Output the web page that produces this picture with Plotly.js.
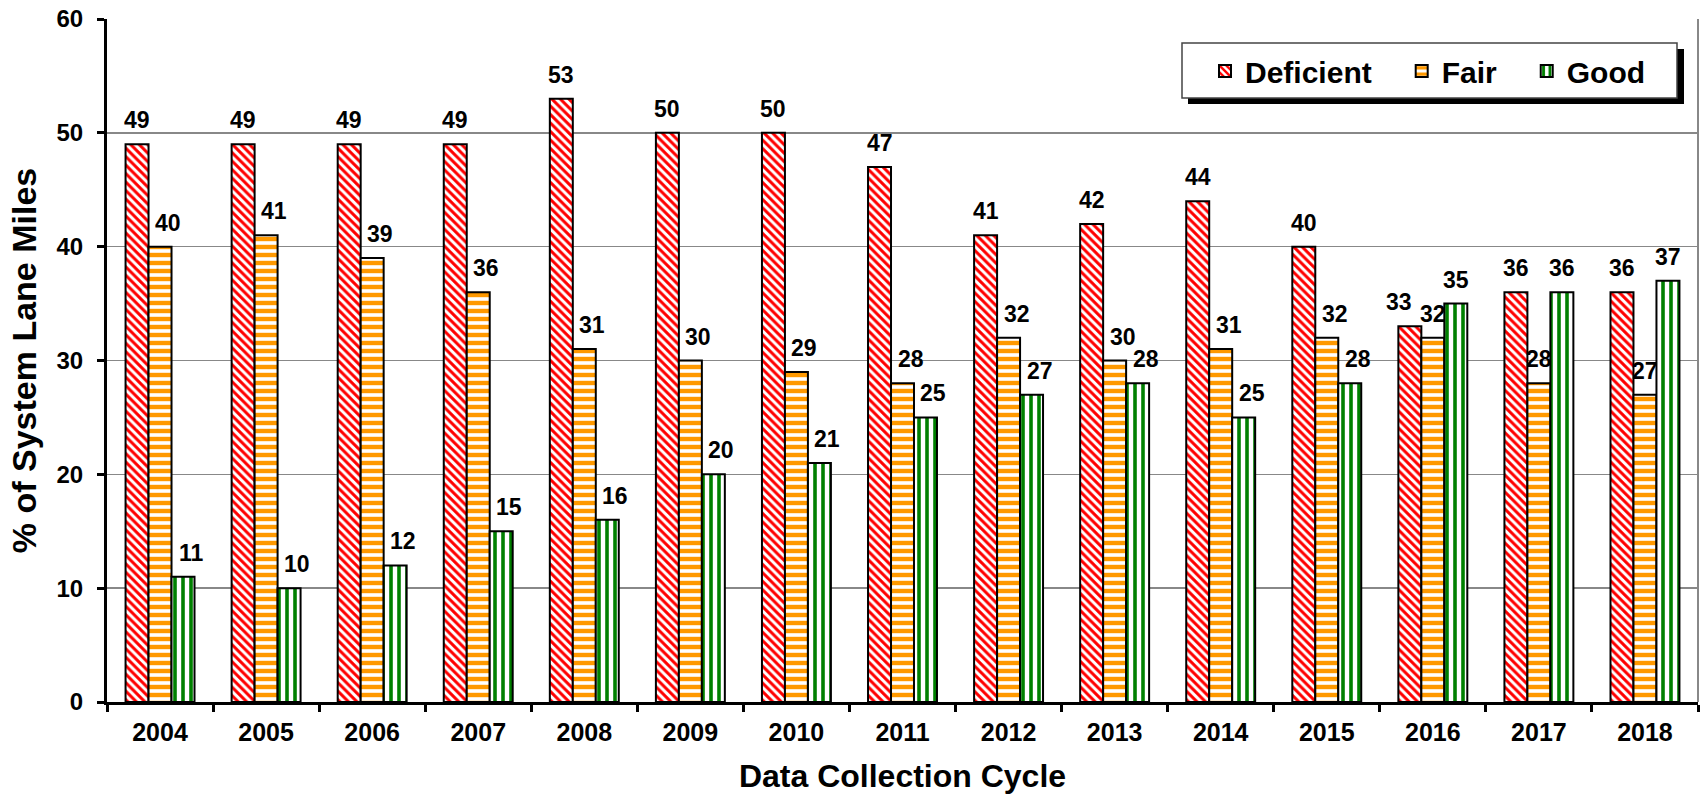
<!DOCTYPE html>
<html>
<head>
<meta charset="utf-8">
<script src="https://cdn.plot.ly/plotly-3.0.1.min.js"></script>
<style>html,body{margin:0;padding:0;background:#fff;}#chart{width:1705px;height:794px;}</style>
</head>
<body>
<div id="chart"></div>
<script>
const years = ['2004','2005','2006','2007','2008','2009','2010','2011','2012','2013','2014','2015','2016','2017','2018'];
const deficient = [49,49,49,49,53,50,50,47,41,42,44,40,33,36,36];
const fair = [40,41,39,36,31,30,29,28,32,30,31,32,32,28,27];
const good = [11,10,12,15,16,20,21,25,27,28,25,28,35,36,37];
const seriesNames = ['Deficient', 'Fair', 'Good'];
const yTicks = [0,10,20,30,40,50,60];

const FONT = 'Liberation Sans, Arial, sans-serif';
const W = 1705, H = 794;
const M = {l: 107, r: 7, t: 19, b: 92, pad: 0};
const BARGAP = 0.35;
const plotW = W - M.l - M.r, plotH = H - M.t - M.b;
const barPx = plotW / years.length * (1 - BARGAP) / 3;

const NB = '\u00a0';
function barTrace(name, vals, shape, fg, size, solidity) {
  return {
    type: 'bar', name: name, x: years, y: vals,
    marker: {
      color: '#ffffff',
      line: {color: '#000', width: 2},
      pattern: {shape: shape, fgcolor: fg, bgcolor: '#ffffff', size: size, solidity: solidity, fillmode: 'replace'}
    },
    hoverinfo: 'skip'
  };
}

const allSeries = [deficient, fair, good];
const data = [
  barTrace(seriesNames[0] + NB + NB + NB, deficient, '\\', '#ff0000', 6, 0.5),
  barTrace(seriesNames[1] + NB + NB + NB, fair, '-', '#ff9900', 8, 0.55),
  barTrace(seriesNames[2], good, '|', '#008000', 8, 0.45)
];

// label nudges (Excel-like): fair/good labels sit slightly right when Good < Fair;
// Deficient label nudged left when it would collide with a near-equal Fair label
function labelNudge(i, j) {
  if (i === 0) return Math.abs(deficient[j] - fair[j]) < 3 ? -11 : 0;
  return good[j] < fair[j] ? 8 : 0;
}

const annotations = [];
allSeries.forEach((vals, i) => {
  vals.forEach((v, j) => {
    annotations.push({
      xref: 'x', yref: 'y', x: j, y: v, text: String(v),
      showarrow: false, xanchor: 'center', yanchor: 'bottom',
      xshift: (i - 1) * barPx + labelNudge(i, j), yshift: 9,
      font: {family: FONT, size: 23, color: '#000', weight: 'bold'}
    });
  });
});

function px2x(p) { return (p - M.l) / plotW; }
function py2y(p) { return (H - M.b - p) / plotH; }

const layout = {
  width: W, height: H,
  margin: M,
  paper_bgcolor: '#fff', plot_bgcolor: '#fff',
  font: {family: FONT, color: '#000', weight: 'bold'},
  barmode: 'group', bargap: BARGAP, bargroupgap: 0,
  showlegend: true,
  legend: {
    orientation: 'h', x: px2x(1205), xanchor: 'left', y: py2y(71), yanchor: 'middle',
    bgcolor: 'rgba(0,0,0,0)', borderwidth: 0,
    font: {family: FONT, size: 30, color: '#000', weight: 'bold'},
    itemwidth: 30, traceorder: 'normal'
  },
  xaxis: {
    type: 'category', categoryarray: years, categoryorder: 'array',
    range: [-0.5, years.length - 0.5], autorange: false,
    tickson: 'boundaries',
    showline: true, linecolor: '#000', linewidth: 3,
    ticks: 'outside', tickcolor: '#000', tickwidth: 3, ticklen: 7,
    ticklabelstandoff: 6, tickangle: 0,
    tickfont: {family: FONT, size: 25, color: '#000', weight: 'bold'},
    showgrid: false, zeroline: false,
    title: {text: 'Data Collection Cycle', font: {family: FONT, size: 32, color: '#000', weight: 'bold'}, standoff: 21}
  },
  yaxis: {
    range: [0, 60], autorange: false, tickvals: yTicks, ticktext: yTicks.map(String),
    showline: true, linecolor: '#000', linewidth: 3,
    ticks: 'outside', tickcolor: '#000', tickwidth: 3, ticklen: 7,
    ticklabelstandoff: 9,
    tickfont: {family: FONT, size: 24, color: '#000', weight: 'bold'},
    showgrid: true, gridcolor: '#888', gridwidth: 1.5, zeroline: false,
    title: {text: '% of System Lane Miles', font: {family: FONT, size: 34, color: '#000', weight: 'bold'}, standoff: 10}
  },
  annotations: annotations,
  shapes: [
    {type: 'line', xref: 'paper', yref: 'paper', x0: 1, x1: 1, y0: 0, y1: 1, line: {color: '#888', width: 2}},
    {type: 'rect', xref: 'paper', yref: 'paper', x0: px2x(1188), x1: px2x(1684), y0: py2y(104), y1: py2y(49), fillcolor: '#000', line: {width: 0}, layer: 'above'},
    {type: 'rect', xref: 'paper', yref: 'paper', x0: px2x(1182), x1: px2x(1677), y0: py2y(98), y1: py2y(43), fillcolor: '#fff', line: {color: '#444', width: 1.5}, layer: 'above'}
  ]
};

Plotly.newPlot('chart', data, layout, {displayModeBar: false, staticPlot: true});
</script>
</body>
</html>
